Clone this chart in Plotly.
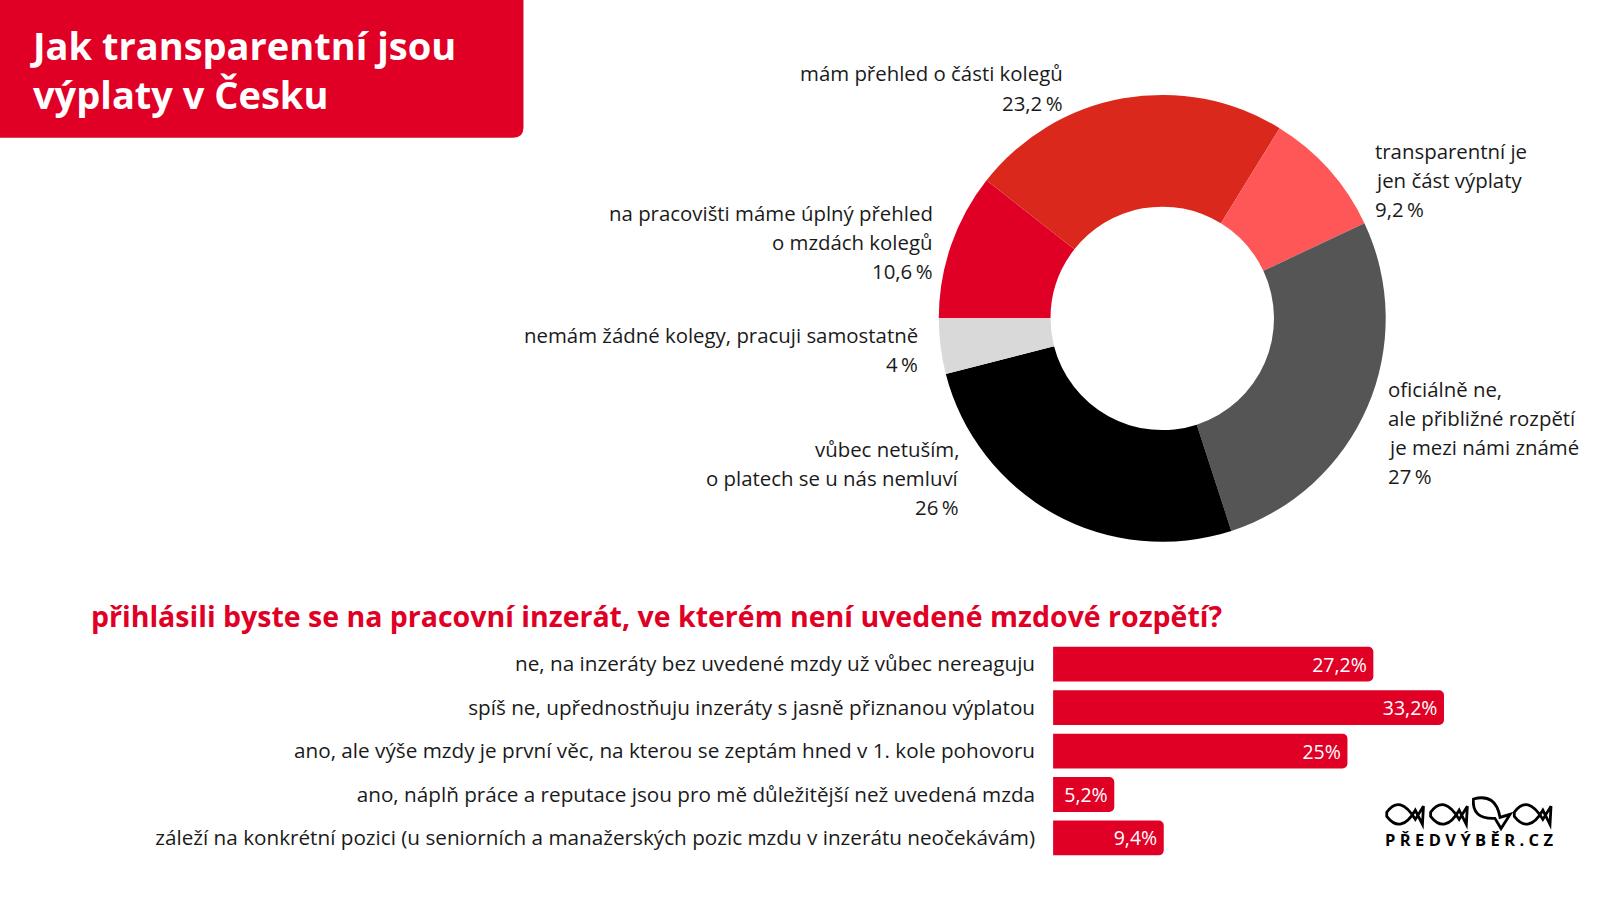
import plotly.graph_objects as go

W, H = 1600, 900

# ---------------- data ----------------
pie_labels = [
    "na pracovišti máme úplný přehled<br>o mzdách kolegů",
    "mám přehled o části kolegů",
    "transparentní je<br>jen část výplaty",
    "oficiálně ne,<br>ale přibližné rozpětí<br>je mezi námi známé",
    "vůbec netuším,<br>o platech se u nás nemluví",
    "nemám žádné kolegy, pracuji samostatně",
]
pie_values = [10.6, 23.2, 9.2, 27, 26, 4]
pie_colors = ["#E00025", "#DA291C", "#FF5757", "#555555", "#000000", "#D9D9D9"]

bar_categories = [
    "ne, na inzeráty bez uvedené mzdy už vůbec nereaguju",
    "spíš ne, upřednostňuju inzeráty s jasně přiznanou výplatou",
    "ano, ale výše mzdy je první věc, na kterou se zeptám hned v 1. kole pohovoru",
    "ano, náplň práce a reputace jsou pro mě důležitější než uvedená mzda",
    "záleží na konkrétní pozici (u seniorních a manažerských pozic mzdu v inzerátu neočekávám)",
]
bar_values = [27.2, 33.2, 25, 5.2, 9.4]

title_text = "Jak transparentní jsou<br>výplaty v Česku"
question_text = "přihlásili byste se na pracovní inzerát, ve kterém není uvedené mzdové rozpětí?"
logo_text = "PŘEDVÝBĚR.CZ"

FONT = "Open Sans"
RED = "#E00025"
TXT = "#1a1a1a"

S = 1 / 0.98  # layout measured on a 0.98-scaled view


def fmt(v, sep=""):
    s = f"{v:g}".replace(".", ",")
    return s + sep + "%"


def px(x):
    return x * S / W


def py(y):
    return 1 - y * S / H


fig = go.Figure()

# ---------------- donut ----------------
fig.add_trace(go.Pie(
    labels=[l.replace("<br>", " ") for l in pie_labels],
    values=pie_values,
    marker=dict(colors=pie_colors, line=dict(width=0)),
    hole=0.5,
    sort=False,
    direction="clockwise",
    rotation=270,
    textinfo="none",
    showlegend=False,
    domain=dict(x=[px(920), px(1358)], y=[py(531), py(93)]),
))

# label placement (anchor of first line, alignment)
label_pos = [
    (916, 209, "right"),
    (1044, 72, "right"),
    (1346, 148, "left"),
    (1358, 381, "left"),
    (942, 440, "right"),
    (902, 328, "right"),
]
LINE_H = 28.5
annotations = []
for lab, val, (x, y, al) in zip(pie_labels, pie_values, label_pos):
    lines = lab.split("<br>") + [fmt(val, "\u2009")]
    for i, ln in enumerate(lines):
        annotations.append(dict(
            x=px(x), y=py(y + i * LINE_H), xref="paper", yref="paper",
            text=ln, showarrow=False, xanchor=al, yanchor="middle",
            font=dict(family=FONT, size=20.4, color=TXT),
        ))

# ---------------- bars ----------------
fig.add_trace(go.Bar(
    x=bar_values,
    y=bar_categories,
    orientation="h",
    marker=dict(color=RED, line=dict(width=0)),
    text=[fmt(v) + "\u2009" for v in bar_values],
    textposition="inside",
    insidetextanchor="end",
    textfont=dict(family=FONT, size=19.5, color="white"),
    width=0.8,
    showlegend=False,
    xaxis="x", yaxis="y",
    hoverinfo="x+y",
))

PX_PER_PCT = 11.54 * S
fig.update_layout(
    width=W, height=H,
    margin=dict(l=0, r=0, t=0, b=0),
    paper_bgcolor="white",
    plot_bgcolor="white",
    barcornerradius=5,
    xaxis=dict(domain=[px(1032), 1.0], range=[0, (W - 1032 * S) / PX_PER_PCT],
               visible=False, fixedrange=True),
    yaxis=dict(domain=[py(842.5), py(629.5)], autorange=False,
               range=[len(bar_categories) - 0.5, -0.5],
               categoryorder="array", categoryarray=bar_categories,
               showline=False, showgrid=False, zeroline=False, ticks="",
               ticklabelstandoff=17,
               tickfont=dict(family=FONT, size=20.7, color=TXT)),
    font=dict(family=FONT),
)

# title box
r = 10
shapes = [dict(
    type="path", xref="paper", yref="paper",
    path=(f"M 0 1 L {px(513)} 1 L {px(513)} {py(135 - r)} "
          f"Q {px(513)} {py(135)} {px(513 - r)} {py(135)} L 0 {py(135)} Z"),
    fillcolor=RED, line=dict(width=0), layer="below",
)]

# logo fishes (decoration)
def fish(x0, yc):
    pts = (f"M {px(x0)} {py(yc-2)} "
           f"Q {px(x0+13)} {py(yc-20)} {px(x0+28)} {py(yc+5)} "
           f"L {px(x0+36)} {py(yc-8)} L {px(x0+35)} {py(yc+10)} "
           f"L {px(x0+28)} {py(yc-4)} "
           f"Q {px(x0+14)} {py(yc+20)} {px(x0)} {py(yc+2)} Z")
    return dict(type="path", xref="paper", yref="paper", path=pts,
                fillcolor="rgba(0,0,0,0)", line=dict(color="black", width=2.8))


def fish_tilted(x0, y0):
    pts = (f"M {px(x0)} {py(y0)} "
           f"Q {px(x0+22)} {py(y0-6)} {px(x0+26)} {py(y0+18)} "
           f"L {px(x0+36)} {py(y0+15)} L {px(x0+27)} {py(y0+29)} "
           f"L {px(x0+21)} {py(y0+19)} "
           f"Q {px(x0-2)} {py(y0+20)} {px(x0)} {py(y0)} Z")
    return dict(type="path", xref="paper", yref="paper", path=pts,
                fillcolor="rgba(0,0,0,0)", line=dict(color="black", width=2.8))


shapes += [fish(1359, 798), fish(1402, 798), fish_tilted(1444, 783), fish(1484, 798)]

annotations += [
    dict(x=px(27), y=py(68.5), xref="paper", yref="paper", text=title_text,
         showarrow=False, xanchor="left", yanchor="middle", align="left",
         font=dict(family=FONT, size=38, color="white", weight="bold")),
    dict(x=px(87), y=py(604), xref="paper", yref="paper", text=question_text,
         showarrow=False, xanchor="left", yanchor="middle",
         font=dict(family=FONT, size=28.5, color=RED, weight="bold")),
    dict(x=px(1440), y=py(823), xref="paper", yref="paper",
         text="\u2009\u200a".join(logo_text), showarrow=False,
         xanchor="center", yanchor="middle",
         font=dict(family=FONT, size=16.5, color="black", weight="bold")),
]

fig.update_layout(shapes=shapes, annotations=annotations)
fig.write_html(
    "out.html",
    config={"displayModeBar": False},
    post_script=("document.body.style.margin='0';"
                 "document.body.style.overflow='hidden';"
                 "document.documentElement.style.overflow='hidden';"),
)
